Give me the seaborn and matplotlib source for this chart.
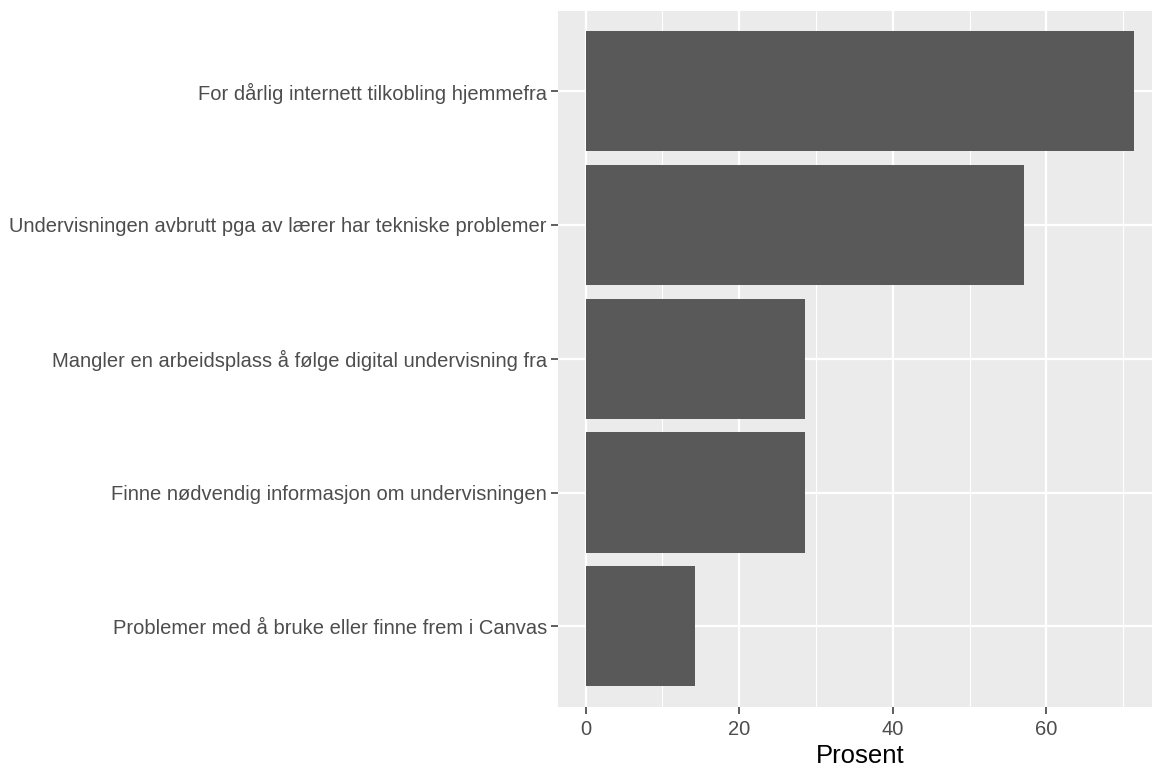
import seaborn as sns
import matplotlib
matplotlib.use("Agg")
import matplotlib.pyplot as plt
from matplotlib.ticker import MultipleLocator
import pandas as pd

# data (share of respondents, percent)
categories = [
    "For dårlig internett tilkobling hjemmefra",
    "Undervisningen avbrutt pga av lærer har tekniske problemer",
    "Mangler en arbeidsplass å følge digital undervisning fra",
    "Finne nødvendig informasjon om undervisningen",
    "Problemer med å bruke eller finne frem i Canvas",
]
prosent = [71.43, 57.14, 28.57, 28.57, 14.29]
x_ticks = [0, 20, 40, 60]

df = pd.DataFrame({"kategori": categories, "prosent": prosent})

PANEL = "#EBEBEB"
BAR = "#595959"
TEXT = "#4D4D4D"
TICK = "#333333"

sns.set_style("white")
plt.rcParams["font.family"] = ["Liberation Sans", "DejaVu Sans"]

fig = plt.figure(figsize=(11.52, 7.69), dpi=100)
# panel runs a little past the right edge, as in the reference
ax = fig.add_axes([558.3 / 1152, 1 - 706.5 / 769, (1161.5 - 558.3) / 1152, (706.5 - 11) / 769])

ax.set_facecolor(PANEL)
sns.barplot(data=df, x="prosent", y="kategori", orient="h", color=BAR,
            width=0.9, saturation=1, ax=ax, zorder=3)
for p in ax.patches:
    p.set_edgecolor("none")

# ggplot-like expansion
xmax = max(prosent)
ax.set_xlim(-0.05 * xmax, 1.05 * xmax)
ax.set_ylim(len(categories) - 0.4, -0.6)

ax.set_xticks(x_ticks)
ax.xaxis.set_minor_locator(MultipleLocator(10))
ax.set_axisbelow(True)
ax.grid(which="major", axis="both", color="white", lw=1.6, zorder=0)
ax.grid(which="minor", axis="x", color="white", lw=0.8, zorder=0)

for s in ax.spines.values():
    s.set_visible(False)

ax.tick_params(axis="both", which="major", bottom=True, left=True,
               length=4.8, width=1.1, color=TICK,
               labelcolor=TEXT, labelsize=14.5)
ax.tick_params(axis="y", pad=3.5)
ax.tick_params(axis="x", pad=5)
ax.tick_params(axis="x", which="minor", bottom=False, length=0)

ax.set_ylabel("")
ax.set_xlabel("Prosent", fontsize=18.5, color="black", labelpad=3.5)

plt.savefig("out.png", dpi=100)
